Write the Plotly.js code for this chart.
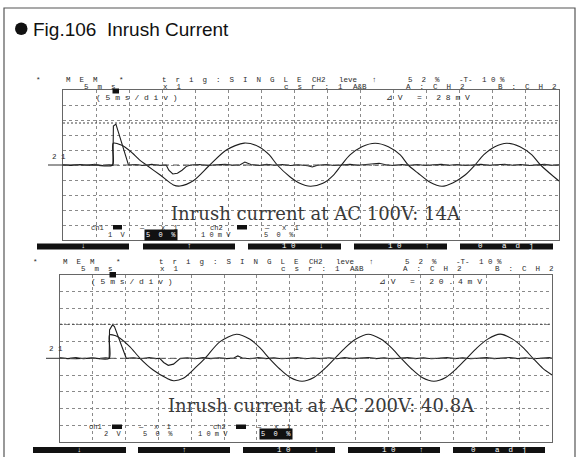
<!DOCTYPE html>
<html><head><meta charset="utf-8">
<script src="https://cdn.plot.ly/plotly-3.0.1.min.js"></script>
<style>html,body{margin:0;padding:0;background:#fff;}#chart{width:579px;height:457px;}</style>
</head><body><div id="chart"></div>
<script>
// ---------------- DATA (time in ms, amplitude in screen divisions) ----------------
// Panel 1 : AC 100V
const t_sine1 = [0,2.5,5,7.5,7.58,8.8,10.1,11.6,12.6,14.7,16.7,17.7,19.7,22.2,24.7,27.4,29.6,31.2,32.4,34.3,35.8,37.4,39.3,40.9,42.1,43.4,45.2,47.2,49.2,51.0,52.2,53.7,55.5,57.3,59.0,60.8,62.3,63.6,65.3,67.1,69.1,70.9,72.1,73.6,75];
const v_sine1 = [0,0.02,-0.02,0,1.45,1.33,0.95,0.33,0,-0.67,-1.33,-1.4,-1.05,0,1.0,1.46,1.22,0.67,0,-0.78,-1.22,-1.42,-1.22,-0.67,0,0.67,1.22,1.45,1.22,0.67,0,-0.55,-1.15,-1.42,-1.18,-0.67,0,0.67,1.22,1.45,1.22,0.67,0.05,-0.55,-1.07];
const t_spike1 = [0,1.2,2.4,3.6,4.8,6.0,7.0,7.55,7.62,8.0,9.9,11.0,12.2,13.4,14.6,15.6,16.0,16.6,17.3,18.0,18.7,19.3,20.6,21.9,23.2,24.5,25.8,26.8,27.5,28.4,29.6,30.8,32.0,33.2,34.4,35.6,37.0,37.7,38.5,39.8,41.0,42.2,43.4,44.6,45.8,47.0,47.8,48.8,50.0,51.2,52.4,53.6,54.8,56.0,57.2,58.4,59.6,60.8,62.0,63.2,64.4,65.6,66.8,68.0,69.2,70.4,71.6,72.8,74.0,75];
const v_spike1 = [0.02,-0.03,0.03,-0.02,0.04,-0.03,0.02,0,2.6,2.73,0,0.03,-0.03,0.04,-0.02,0,-0.35,-0.6,-0.55,-0.35,-0.08,0,0.03,-0.03,0.02,0.04,-0.02,0.02,0.2,0.03,-0.03,0.04,-0.02,0.03,-0.03,0.02,-0.05,-0.13,-0.02,0.03,-0.03,0.02,0.04,-0.02,0.03,0.05,0.12,0.02,-0.03,0.03,-0.02,0.03,-0.03,0.02,0.04,-0.02,0.03,-0.03,0.02,0.04,-0.02,0.03,0.05,-0.02,0.03,-0.03,0.02,0.04,-0.02,0.01];
// Panel 2 : AC 200V
const t_sine2 = [0,2.5,5,7.5,7.55,8.4,9.15,10.67,12.2,14.2,16.3,17.3,18.8,20.8,22.1,24.4,26.9,28.9,30.5,31.9,33.5,35.1,36.9,38.7,40.3,41.9,43.5,45.1,47.0,48.9,50.5,52.0,53.6,55.2,57.0,58.8,60.4,62.0,63.6,65.2,67.1,69.0,70.6,72.1,73.6,75];
const v_sine2 = [0,-0.02,0.02,0,1.4,1.36,1.2,0.69,0,-0.7,-1.2,-1.34,-1.2,-0.5,0,1.0,1.44,1.15,0.62,0,-0.64,-1.15,-1.37,-1.15,-0.64,0,0.64,1.15,1.44,1.15,0.64,0,-0.64,-1.15,-1.37,-1.15,-0.64,0,0.64,1.15,1.45,1.15,0.64,0,-0.6,-1.0];
const t_spike2 = [0,1.2,2.4,3.6,4.8,6.0,7.0,7.5,7.55,8.0,8.3,10.1,11.2,12.4,13.6,14.6,15.2,15.8,16.5,17.3,18.3,19.4,20.6,21.8,23.0,24.2,25.4,26.5,27.1,27.8,29.0,30.2,31.4,32.6,33.8,35.0,36.2,37.4,38.6,39.8,41.0,42.2,43.4,44.6,45.8,47.0,48.2,49.4,50.6,51.8,53.0,54.2,55.4,56.6,57.8,59.0,60.2,61.4,62.6,63.8,65.0,66.2,67.4,68.6,69.8,71.0,72.2,73.4,74.6,75];
const v_spike2 = [0.03,-0.02,0.04,-0.03,0.02,-0.02,0.03,0,1.7,2.0,1.9,0,0.03,-0.03,0.04,-0.02,0,-0.25,-0.42,-0.35,-0.02,0.03,-0.03,0.04,-0.02,0.03,-0.02,0.02,0.14,0.02,-0.03,0.04,-0.02,0.03,-0.03,0.02,0.04,-0.03,0.02,-0.02,0.03,-0.03,0.04,-0.02,0.03,0.05,-0.02,0.03,-0.03,0.02,0.04,-0.02,0.03,-0.03,0.02,0.04,-0.02,0.03,-0.03,0.02,0.04,-0.02,0.03,0.05,-0.02,0.03,-0.03,0.02,0.04,0.0];
// cursor levels (divisions): dV = 28mV and 20.4mV at 10mV/div
const cursorA1 = 2.8, cursorA2 = 2.04;

// ---------------- TEXT ----------------
const figTitle = "Fig.106  Inrush Current";
const caption1 = "Inrush current at AC 100V: 14A";
const caption2 = "Inrush current at AC 200V: 40.8A";
const headerRow1 = ["*", "MEM", "*", "trig:SINGLE", "CH2 leve", "↑", "52%", "-T-", "10%"];
const headerRow2 = ["5ms", "x1", "csr:1", "A&B", "A:CH2", "B:CH2"];
const timebaseText = "(5ms/div)";
const deltaV1 = "⊿V = 28mV";
const deltaV2 = "⊿V = 20.4mV";
const levelLabel = "21";
const chanRowA = ["ch1", "—", "x1", "ch2", "—", "x1"];
const chanRowB1 = ["1V", "50%", "10mV", "50%"];
const chanRowB2 = ["2V", "50%", "10mV", "50%"];
const buttonLabels = [["↓"], ["↑"], ["10", "↓"], ["10", "↑"], ["0", "adj"]];

// ---------------- LAYOUT HELPERS ----------------
const W = 579, H = 457;
const px = x => x / W, py = y => 1 - y / H;
const MONO = "Liberation Mono, DejaVu Sans Mono, monospace";
const INK = "#2a2a2a";
const NB = "\u00A0";
// oscilloscope screen font: wide letter pitch rendered with non-breaking spaces
function spread(s, k) {
  if (k === 0) return s.replace(/ /g, NB + NB + NB);
  return Array.from(s).map(c => c === " " ? NB : c).join(NB.repeat(k));
}
const annotations = [], shapes = [];
function txt(text, x, y, o) {
  o = o || {};
  annotations.push({
    text: text, x: px(x), y: py(y), xref: "paper", yref: "paper",
    xanchor: o.xanchor || "left", yanchor: "middle", showarrow: false,
    borderpad: o.pad || 0,
    bgcolor: o.bg || "rgba(0,0,0,0)",
    font: { family: o.family || MONO, size: o.size || 7.5, color: o.color || INK }
  });
}
function rect(x0, y0, x1, y1, fill) {
  shapes.push({ type: "rect", xref: "paper", yref: "paper", x0: px(x0), x1: px(x1), y0: py(y1), y1: py(y0),
    fillcolor: fill, line: { width: 0 } });
}

// panel geometry (pixels)
const panels = [
  { left: 63, right: 559, top: 90, bottom: 240, dx: 0, hdrY: [79.5, 86.5], infoY: 97, chY: [227.5, 234.5],
    capY: 213, capX: 170, btnY: [243.5, 249.5], btnX: [[37,129],[143,235],[248,341],[354,447],[460,553]],
    levelX: 48, levelLbl: [51, 157], pMark: [112.5, 88.5, 119, 93.5] },
  { left: 60, right: 552, top: 274.8, bottom: 441.8, dx: -3, hdrY: [261.5, 268.5], infoY: 281.5, chY: [427, 434],
    capY: 405, capX: 167, btnY: [447, 453], btnX: [[33,126],[138,230],[243,335],[348,440],[453,545]],
    levelX: 46, levelLbl: [48, 349], pMark: [109.5, 272, 116, 277.5] }
];
const hdr1X = [35, 65, 118, 161, 311, 371, 407, 458, 481];
const hdr1K = [0, 2, 0, 2, 0, 0, 2, 0, 1];
const hdr2X = [83, 162, 283, 352, 405, 497];
const hdr2K = [2, 2, 2, 0, 2, 2];
const chAX = [[90, 138, 160, 209, 263, 281], [88, 137, 153, 212, 255, 273]];
const chAK = [0, 0, 2, 0, 0, 2];
const chBX = [[107, 144, 200, 263], [103, 142, 197, 259]];
const chBK = [2, 2, 1, 2];
const chHi = [1, 3];
const chBoxes = [[[113, 122], [237, 247]], [[112, 122], [236, 246]]];
const infoX = [[95, 385], [90, 378]];

// outer frame + title
shapes.push({ type: "rect", xref: "paper", yref: "paper", x0: px(4), x1: px(575), y0: py(470), y1: py(8),
  line: { color: "#555", width: 1.2 }, fillcolor: "rgba(0,0,0,0)" });
shapes.push({ type: "circle", xref: "paper", yref: "paper", x0: px(15), x1: px(27.5), y0: py(35), y1: py(22.5),
  fillcolor: "#111", line: { width: 0 } });
txt(figTitle, 32, 29, { family: "Liberation Sans, Arial, sans-serif", size: 19, color: "#111" });

panels.forEach((p, i) => {
  const xa = i === 0 ? "x" : "x2", ya = i === 0 ? "y" : "y2";
  headerRow1.forEach((s, k) => txt(spread(s, hdr1K[k]), hdr1X[k] + p.dx, p.hdrY[0]));
  headerRow2.forEach((s, k) => txt(spread(s, hdr2K[k]), hdr2X[k] + p.dx, p.hdrY[1]));
  txt(spread(timebaseText, 1), infoX[i][0], p.infoY, { size: 8 });
  txt(spread(i === 0 ? deltaV1 : deltaV2, 1), infoX[i][1], p.infoY, { size: 8 });
  txt(spread(levelLabel, 1), p.levelLbl[0], p.levelLbl[1], { size: 7.5 });
  chanRowA.forEach((s, k) => txt(spread(s, chAK[k]), chAX[i][k], p.chY[0], { size: 7 }));
  (i === 0 ? chanRowB1 : chanRowB2).forEach((s, k) => {
    const hi = k === chHi[i];
    txt(spread(s, chBK[k]), chBX[i][k], p.chY[1], { size: 7, bg: hi ? "#111" : null, color: hi ? "#fff" : INK, pad: hi ? 1 : 0 });
  });
  chBoxes[i].forEach(b => rect(b[0], p.chY[0] - 2.5, b[1], p.chY[0] + 2, "#111"));
  txt(i === 0 ? caption1 : caption2, p.capX, p.capY, { family: "DejaVu Serif, Liberation Serif, serif", size: 18, color: "#3a3a3a" });
  // soft-key bar
  p.btnX.forEach((b, k) => {
    rect(b[0], p.btnY[0], b[1], p.btnY[1], "#111");
    const lab = buttonLabels[k], cy = (p.btnY[0] + p.btnY[1]) / 2;
    const o = { size: 7.5, color: "#fff" };
    if (lab.length === 1) txt(lab[0], (b[0] + b[1]) / 2, cy, Object.assign({ xanchor: "center" }, o));
    else if (k === 4) { txt(lab[0], b[0] + 17, cy, o); txt(spread(lab[1], 2), b[0] + 41, cy, o); }
    else { txt(spread(lab[0], 1), b[0] + 33, cy, o); txt(lab[1], b[0] + 70, cy, o); }
  });
  // trigger position marker
  rect(p.pMark[0], p.pMark[1], p.pMark[2], p.pMark[3], "#111");
  // level marker left of the plot, cursor B (dashed centre) and cursor A
  shapes.push({ type: "line", xref: "paper", yref: ya, x0: px(p.levelX), x1: px(p.left), y0: 0, y1: 0, line: { color: "#333", width: 1 } });
  shapes.push({ type: "line", xref: xa, yref: ya, x0: 0, x1: 75, y0: 0, y1: 0, line: { color: "#555", width: 1, dash: "6px,4px" } });
  const ca = i === 0 ? cursorA1 : cursorA2;
  shapes.push({ type: "line", xref: xa, yref: ya, x0: 0, x1: 75, y0: ca, y1: ca, line: { color: "#444", width: 1, dash: "2px,2px" } });
});

function axis(dom, range, dtick, anchor) {
  return { domain: dom, range: range, dtick: dtick, tick0: 0, showgrid: true, griddash: "dot", gridcolor: "#8a8a8a", gridwidth: 1,
    zeroline: false, showline: true, mirror: true, linecolor: "#666", linewidth: 1, showticklabels: false, ticks: "",
    anchor: anchor, fixedrange: true };
}
const layout = {
  width: W, height: H, autosize: false, margin: { l: 0, r: 0, t: 0, b: 0 },
  paper_bgcolor: "#fff", plot_bgcolor: "#fff", showlegend: false,
  xaxis: axis([px(panels[0].left), px(panels[0].right)], [0, 75], 5, "y"),
  yaxis: axis([py(panels[0].bottom), py(panels[0].top)], [-5, 5], 1, "x"),
  xaxis2: axis([px(panels[1].left), px(panels[1].right)], [0, 75], 5, "y2"),
  yaxis2: axis([py(panels[1].bottom), py(panels[1].top)], [-5, 5], 1, "x2"),
  annotations: annotations, shapes: shapes
};
const lineStyle = s => ({ color: "#1e1e1e", width: 1.1, shape: s, smoothing: 0.8 });
const data = [
  { type: "scatter", mode: "lines", x: t_sine1, y: v_sine1, xaxis: "x", yaxis: "y", line: lineStyle("spline"), hoverinfo: "skip" },
  { type: "scatter", mode: "lines", x: t_spike1, y: v_spike1, xaxis: "x", yaxis: "y", line: lineStyle("linear"), hoverinfo: "skip" },
  { type: "scatter", mode: "lines", x: t_sine2, y: v_sine2, xaxis: "x2", yaxis: "y2", line: lineStyle("spline"), hoverinfo: "skip" },
  { type: "scatter", mode: "lines", x: t_spike2, y: v_spike2, xaxis: "x2", yaxis: "y2", line: lineStyle("linear"), hoverinfo: "skip" }
];
Plotly.newPlot("chart", data, layout, { staticPlot: true, displayModeBar: false });
</script></body></html>
